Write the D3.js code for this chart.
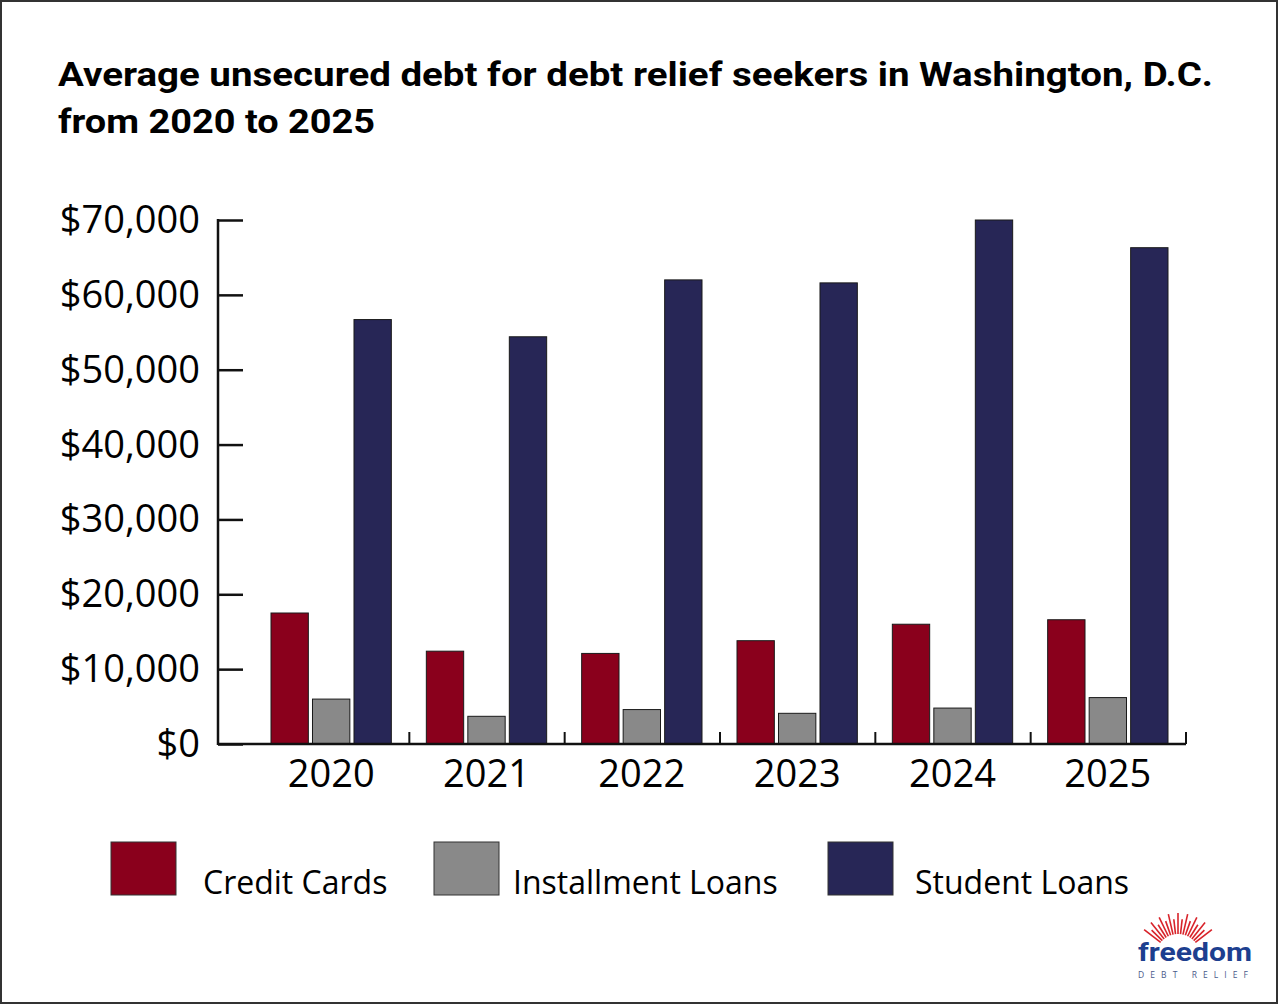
<!DOCTYPE html>
<html>
<head>
<meta charset="utf-8">
<script src="https://cdn.jsdelivr.net/npm/d3@7"></script>
<style>
  body { margin: 0; background: #fff; }
  svg { display: block; }
</style>
</head>
<body>
<svg id="chart" width="1280" height="1006"></svg>
<script>
// data
const years = ["2020", "2021", "2022", "2023", "2024", "2025"]
const creditCards = [17500, 12400, 12100, 13800, 16000, 16600]
const installmentLoans = [6000, 3700, 4600, 4100, 4800, 6200]
const studentLoans = [56700, 54400, 62000, 61600, 70000, 66300]
const seriesNames = ["Credit Cards", "Installment Loans", "Student Loans"]
const seriesColors = ["#8a001c", "#898989", "#272656"]
const yTicks = [0, 10000, 20000, 30000, 40000, 50000, 60000, 70000]

const svg = d3.select("#chart")

// outer frame
svg.append("rect")
  .attr("x", 1).attr("y", 1)
  .attr("width", 1276).attr("height", 1002)
  .attr("fill", "none")
  .attr("stroke", "#333")
  .attr("stroke-width", 2)

// title
const title = svg.append("text")
  .attr("font-family", "Roboto")
  .attr("font-weight", 700)
  .attr("font-size", 34)
  .attr("fill", "#000")
title.append("tspan").attr("x", 58).attr("y", 86)
  .attr("textLength", 1155).attr("lengthAdjust", "spacingAndGlyphs")
  .text("Average unsecured debt for debt relief seekers in Washington, D.C.")
title.append("tspan").attr("x", 58).attr("y", 133)
  .attr("textLength", 317).attr("lengthAdjust", "spacingAndGlyphs")
  .text("from 2020 to 2025")

const x0 = 218, x1 = 1186, yTop = 220, yBase = 744

const x = d3.scaleBand()
  .domain(years)
  .range([254, x1])

const xInner = d3.scaleBand()
  .domain(seriesNames)
  .range([17, x.bandwidth() - 18])
  .paddingInner(0.1)

const y = d3.scaleLinear()
  .domain([0, 70000])
  .range([yBase, yTop])

const rows = years.map((yr, i) => ({
  year: yr,
  values: [creditCards[i], installmentLoans[i], studentLoans[i]]
}))

// bars
svg.append("g")
  .selectAll("g.year")
  .data(rows)
  .join("g")
    .classed("year", true)
    .attr("transform", d => "translate(" + x(d.year) + ",0)")
  .selectAll("rect")
  .data(d => d.values.map((v, k) => ({name: seriesNames[k], value: v, k: k})))
  .join("rect")
    .attr("x", d => xInner(d.name))
    .attr("width", xInner.bandwidth())
    .attr("y", d => y(d.value))
    .attr("height", d => yBase - y(d.value))
    .attr("fill", d => seriesColors[d.k])
    .attr("stroke", "#1a1a1a")
    .attr("stroke-width", 1)

// y axis, ticks point into the plot
svg.append("g")
  .attr("transform", "translate(" + x0 + ",0)")
  .call(d3.axisRight(y).tickValues(yTicks).tickSize(25).tickFormat(""))
  .call(a => a.select(".domain").remove())
  .call(a => a.selectAll("line").attr("stroke", "#111").attr("stroke-width", 2.5))

svg.append("line")
  .attr("x1", x0).attr("x2", x0)
  .attr("y1", yTop - 1).attr("y2", yBase + 1)
  .attr("stroke", "#111").attr("stroke-width", 2.5)

svg.append("g")
  .selectAll("text")
  .data(yTicks)
  .join("text")
    .attr("x", 200)
    .attr("y", d => y(d) + 13)
    .attr("text-anchor", "end")
    .attr("font-family", "Open Sans")
    .attr("font-size", 38)
    .attr("fill", "#000")
    .text(d => "$" + d3.format(",")(d))

// x axis: baseline plus separator ticks pointing up
svg.append("line")
  .attr("x1", x0).attr("x2", x1)
  .attr("y1", yBase).attr("y2", yBase)
  .attr("stroke", "#111").attr("stroke-width", 2.5)

svg.append("g")
  .selectAll("line")
  .data(years.slice(1).map(yr => x(yr)).concat([x1]))
  .join("line")
    .attr("x1", d => d).attr("x2", d => d)
    .attr("y1", yBase).attr("y2", yBase - 12)
    .attr("stroke", "#111").attr("stroke-width", 2)

svg.append("g")
  .selectAll("text")
  .data(years)
  .join("text")
    .attr("x", d => x(d) + x.bandwidth() / 2 - 0.5)
    .attr("y", 787)
    .attr("text-anchor", "middle")
    .attr("font-family", "Open Sans")
    .attr("font-size", 38)
    .attr("fill", "#000")
    .text(d => d)

// legend
const legendX = [111, 434, 828]
const labelDx = [92, 79, 87]
const legend = svg.append("g")
  .selectAll("g")
  .data(seriesNames)
  .join("g")
    .attr("transform", (d, i) => "translate(" + legendX[i] + ",842)")
legend.append("rect")
  .attr("width", 65).attr("height", 53)
  .attr("fill", (d, i) => seriesColors[i])
  .attr("stroke", "#333").attr("stroke-width", 1)
legend.append("text")
  .attr("x", (d, i) => labelDx[i]).attr("y", 52)
  .attr("font-family", "Open Sans")
  .attr("font-size", 32)
  .attr("fill", "#000")
  .text(d => d)

// logo
const logo = svg.append("g").attr("transform", "translate(1178,956)")
const rays = d3.range(-52, 53, 6.5)
logo.selectAll("line")
  .data(rays)
  .join("line")
    .attr("x1", a => Math.sin(a * Math.PI / 180) * 22)
    .attr("y1", a => -Math.cos(a * Math.PI / 180) * 22)
    .attr("x2", a => Math.sin(a * Math.PI / 180) * (Math.round(a / 6.5) % 2 === 0 ? 43 : 37))
    .attr("y2", a => -Math.cos(a * Math.PI / 180) * (Math.round(a / 6.5) % 2 === 0 ? 43 : 37))
    .attr("stroke", "#d8232a")
    .attr("stroke-width", 1.6)
logo.append("text")
  .attr("x", -40).attr("y", 5)
  .attr("font-family", "Roboto")
  .attr("font-weight", 700)
  .attr("font-size", 26)
  .attr("fill", "#1d3f8f")
  .attr("textLength", 114).attr("lengthAdjust", "spacingAndGlyphs")
  .text("freedom")
logo.append("text")
  .attr("x", -40).attr("y", 22)
  .attr("font-family", "Open Sans")
  .attr("font-size", 8.5)
  .attr("fill", "#4a5a8a")
  .attr("textLength", 110).attr("lengthAdjust", "spacing")
  .text("DEBT RELIEF")
</script>
</body>
</html>
